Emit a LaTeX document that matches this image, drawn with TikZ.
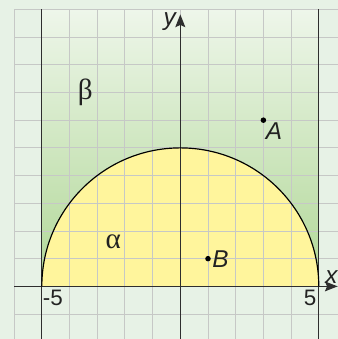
\documentclass[tikz,border=0pt]{standalone}
\usepackage{fontspec}
\setmainfont{Liberation Sans}
\newfontfamily\grkfont{Liberation Serif}
\usetikzlibrary{arrows.meta}
\definecolor{bgc}{HTML}{E7F2E6}
\definecolor{gridc}{HTML}{C6C8C6}
\definecolor{gtop}{HTML}{EEF6EA}
\definecolor{gbot}{HTML}{B0D796}
\definecolor{yel}{HTML}{FFF59C}
\definecolor{axc}{HTML}{2E2E2E}
\definecolor{txt}{HTML}{222222}
\tikzset{
  gridline/.style={draw=gridc, line width=0.9pt},
  axisline/.style={draw=axc, line width=1.3pt},
  arrowaxis/.style={axisline, -{Stealth[length=0.46cm,width=0.36cm,inset=0.08cm]}},
  curve/.style={draw=black, line width=1.2pt},
  dot/.style={circle, fill=black, inner sep=0pt, minimum size=0.2cm},
  lbl/.style={text=txt, font=\fontsize{23}{25}\selectfont, inner sep=1pt},
  greek/.style={text=txt, font=\fontsize{30}{32}\grkfont, inner sep=0pt},
  ptl/.style={text=txt, font=\fontsize{25}{27}\selectfont\itshape, inner sep=1pt}
}
\begin{document}
\begin{tikzpicture}
\useasboundingbox (-6.51,-1.90) rectangle (5.69,10.34);
\clip (-6.51,-1.90) rectangle (5.69,10.34);
\fill[bgc] (-6.51,-1.90) rectangle (5.69,10.34);
\shade[top color=gtop, bottom color=gbot] (-5,0) rectangle (5,10);
\fill[yel] (-5,0) arc[start angle=180, end angle=0, radius=5] -- cycle;
% grid
\foreach \x in {-6,...,6} \draw[gridline] (\x,-2) -- (\x,10);
\foreach \y in {-1,...,10} \draw[gridline] (-6,\y) -- (6,\y);
% vertical lines x = -5, 5
\coordinate (l1) at (-5,10); \coordinate (l2) at (-5,-2);
\coordinate (r1) at (5,10); \coordinate (r2) at (5,-2);
\draw[axisline] (l1) -- (l2);
\draw[axisline] (r1) -- (r2);
% axes
\coordinate (xs) at (-6,0); \coordinate (xe) at (5.68,0);
\coordinate (ys) at (0,-2); \coordinate (ye) at (0,9.82);
\draw[arrowaxis] (xs) -- (xe);
\draw[arrowaxis] (ys) -- (ye);
% semicircle
\coordinate (m5) at (-5,0);
\coordinate (p5) at (5,0);
\draw[curve] (m5) arc[start angle=180, end angle=0, radius=5];
% labels
\node[ptl, anchor=east] (ylab) at (-0.12,9.55) {y};
\node[ptl, anchor=south east, inner sep=0pt] (xlab) at (5.68,0.1) {x};
\node[lbl, anchor=north west] (m5lab) at (-5.0,-0.08) {-5};
\node[lbl, anchor=north east] (p5lab) at (4.95,-0.08) {5};
\node[greek] (beta) at (-3.43,7.0) {β};
\node[greek] (alpha) at (-2.42,1.6) {α};
\node[dot] (A) at (3,6) {};
\node[ptl, anchor=north west] (Alab) at (3.05,5.95) {A};
\node[dot] (B) at (1,1) {};
\node[ptl, anchor=west] (Blab) at (1.12,1.0) {B};
\end{tikzpicture}
\end{document}
